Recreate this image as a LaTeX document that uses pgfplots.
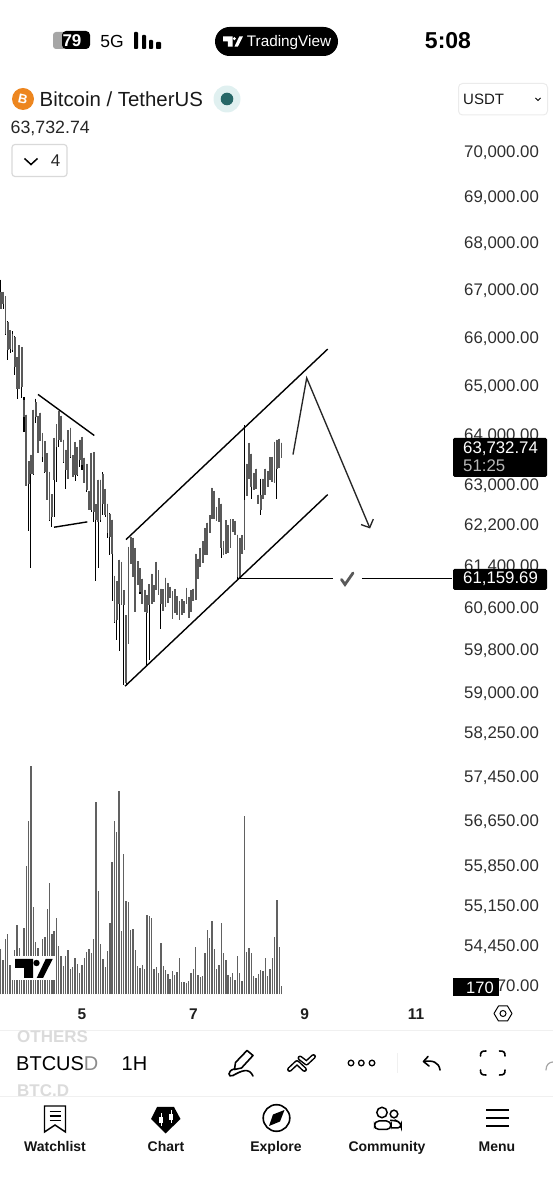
\documentclass[border=0pt]{standalone}
\usepackage{fontspec}
\setmainfont{Liberation Sans}
\usepackage{pgfplots}
\usepackage{pgfplotstable}
\pgfplotsset{compat=1.18}
\newcommand\fs[1]{\fontsize{#1}{#1}\selectfont}
\newcommand\tvlogo[3]{\begin{scope}[shift={(#1,#2)},scale=#3]
 \fill[black] (0,0)--(18,0)--(18,19)--(9,19)--(9,9)--(0,9)--cycle;
 \fill[black] (21.5,4) circle (3.2);
 \fill[black] (30.7,0)--(37.7,0)--(28,19)--(21.7,19)--cycle;
\end{scope}}
\pgfplotstableread{
x h l bt bb
-35 67218 66605 66957 66605
-34 66957 66605 66957 66710
-33 66865 66045 66865 66080
-32 66345 65525 66324 65733
-31 66150 65684 66150 65768
-30 66129 65698 66080 65733
-29 66031 65215 66010 65387
-28 65580 64736 65580 64941
-27 65837 64941 65837 64941
-26 65802 64750 65802 64975
-25 64770 64060 64702 64363
-24 64410 62968 64410 62968
-23 63474 62079 63474 63020
-22 63601 61363 63601 63220
-21 64512 63187 64512 63220
-20 64736 64241 64668 64363
-19 64383 63622 64383 63622
-18 64451 63870 64451 63870
-17 64043 63454 64030 63554
-16 63877 63234 63877 63254
-15 63622 62690 63622 62690
-14 63254 62275 63254 62295
-13 62809 62164 62809 62361
-12 63937 62361 63937 63087
-11 64214 63054 64214 63756
-10 64485 63756 64485 63890
-9 64383 63856 64383 63856
-8 63903 63434 63903 63454
-7 63702 62922 63702 63287
-6 64093 63120 64093 63120
-5 64147 63521 64147 63554
-4 63588 63140 63588 63154
-3 63856 63074 63856 63187
-2 63756 63167 63756 63187
-1 63903 63354 63903 63487
0 63957 63287 63957 63387
1 63541 63034 63541 63034
2 63420 62856 63420 62889
3 62876 62493 62876 62493
4 63635 62460 63635 62493
5 63655 62262 63655 62460
6 62611 61105 62611 62295
7 63100 61350 63100 62262
8 63100 62262 63100 62295
9 63240 62394 63220 62624
10 62915 62361 62915 62394
11 62624 61935 62624 62033
12 62440 61609 62427 61967
13 62308 60720 62308 61642
14 61208 60305 61208 60324
15 61105 59976 61105 60356
16 61524 59768 61524 60675
17 61479 60643 61479 60643
18 60931 59130 60931 60643
19 60452 59130 60452 59161
20 61772 59913 61772 59913
21 61967 61447 61967 61447
22 61948 61189 61948 61189
23 61752 60503 61752 60503
24 61492 61028 61492 61028
25 61350 60867 61350 60900
26 61156 60675 61156 60675
27 60944 60503 60944 60503
28 60835 59492 60835 60484
29 61047 59598 61047 60643
30 61253 60662 61253 60662
31 61028 60707 61028 60707
32 61479 60931 61479 60931
33 61318 60848 61318 60848
34 60963 60179 60963 60675
35 60950 60535 60950 60535
36 61176 60611 61176 60611
37 61073 60688 61073 60688
38 60995 60771 60995 60771
39 60912 60375 60912 60375
40 60950 60484 60950 60484
41 60822 60452 60822 60452
42 60726 60369 60726 60369
43 60758 60465 60758 60465
44 60720 60497 60720 60497
45 60976 60675 60976 60675
46 60803 60407 60803 60407
47 60931 60516 60931 60516
48 60963 60726 60963 60726
49 61641 60739 61641 60739
50 61543 61157 61543 61157
51 61752 61382 61752 61382
52 61883 61460 61883 61460
53 62145 61608 62145 61608
54 62249 61608 62249 61608
55 62394 62046 62394 62046
56 62938 62328 62938 62328
57 62878 62328 62878 62328
58 62558 62282 62558 62282
59 62736 62262 62736 62262
60 62624 61557 62624 61759
61 61889 61621 61889 61621
62 62295 61641 62295 61641
63 62197 61654 62197 61654
64 62315 61759 62315 61759
65 62315 62066 62315 62066
66 62282 62000 62282 62000
67 62013 61157 62013 61190
68 61954 61157 61954 61157
69 62000 61628 62000 61628
70 64190 61706 62690 61706
71 63420 62776 63420 62776
72 63836 63120 63836 63120
73 63621 62703 63621 62960
74 63233 62902 63233 62902
75 63320 62922 63320 62922
76 62803 62624 62803 62624
77 63120 62394 62800 62500
78 63120 62703 63120 62703
79 63320 62790 63320 62790
80 63267 62955 63267 62955
81 63554 63100 63554 63100
82 63554 63054 63554 63054
83 63856 63034 63856 63034
84 63903 62703 63903 63320
85 63923 63340 63923 63340
86 63843 63534 63843 63533
}\candles
\pgfplotstableread{
x v
-35 945
-34 721
-33 1162
-32 1260
-31 616
-30 462
-29 931
-28 1456
-27 966
-26 721
-25 1400
-24 2695
-23 3640
-22 4795
-21 1841
-20 1092
-19 980
-18 721
-17 1162
-16 1211
-15 1792
-14 2331
-13 1267
-12 1330
-11 1596
-10 1015
-9 805
-8 602
-7 805
-6 924
-5 532
-4 581
-3 756
-2 637
-1 441
0 616
1 756
2 896
3 945
4 875
5 1155
6 4032
7 2163
8 1057
9 742
10 581
11 917
12 1491
13 2786
14 3640
15 3416
16 4277
17 1337
18 2947
19 1960
20 1932
21 1351
22 1379
23 931
24 602
25 546
26 609
27 539
28 1666
29 1638
30 1610
31 525
32 567
33 441
34 1085
35 588
36 518
37 427
38 322
39 497
40 406
41 462
42 756
43 266
44 252
45 245
46 287
47 441
48 532
49 994
50 406
51 371
52 378
53 875
54 1344
55 1176
56 1533
57 959
58 525
59 616
60 1505
61 875
62 714
63 406
64 371
65 441
66 294
67 805
68 441
69 287
70 3745
71 896
72 966
73 861
74 392
75 336
76 427
77 518
78 490
79 756
80 385
81 539
82 756
83 1204
84 1981
85 1001
86 170
}\volumes
\begin{document}
\begin{tikzpicture}[x=1pt,y=1pt]
\path[use as bounding box] (0,0) rectangle (553,1200);
% volume pane
\begin{axis}[at={(0pt,205.5pt)},anchor=south west,scale only axis,width=452pt,height=234.5pt,
 xmin=-35.345,xmax=159.48,ymin=0,ymax=4921,hide axis]
\addplot[ycomb,color=black!62,line width=1.35pt,mark=none] table[x=x,y=v] \volumes;
\end{axis}
% logo on chart
\begin{scope}[x=1pt,y=-1pt,yshift=1200pt]
 \fill[white] (12,956) rectangle (56,980.5);
 \tvlogo{15}{959}{1}
\end{scope}
% price pane: logarithmic price scale (axis units are 1000*ln(price))
\begin{axis}[at={(0pt,205pt)},anchor=south west,scale only axis,width=452pt,height=865pt,
 xmin=-35.345,xmax=159.48,
 y filter/.code={\pgfmathparse{ln(#1)*1000}},
 ymin=10889.50,ymax=11162.89,
 axis line style={draw=none},major tick length=0pt,
 scaled y ticks=false,scaled x ticks=false,
 ytick={10892.47,10905.04,10917.81,10930.43,10944.65,10958.67,10972.50,10985.29,10998.76,11012.05,11025.17,11038.11,11050.89,11066.64,11082.14,11097.41,11112.45,11127.26,11141.86,11156.25},
 yticklabels={53{,}770.00,54{,}450.00,55{,}150.00,55{,}850.00,56{,}650.00,57{,}450.00,58{,}250.00,59{,}000.00,59{,}800.00,60{,}600.00,61{,}400.00,62{,}200.00,63{,}000.00,64{,}000.00,65{,}000.00,66{,}000.00,67{,}000.00,68{,}000.00,69{,}000.00,70{,}000.00},
 yticklabel pos=right,
 yticklabel style={anchor=west,inner sep=0pt,xshift=12pt,yshift=-1.3pt,font=\fs{16.8},text=black!82},
 xtick={0,48,96,144},xticklabels={5,7,9,11},
 xticklabel style={anchor=center,yshift=-19pt,font=\fs{15.5}\bfseries,text=black!88},
 ]
\pgfplotstablegetrowsof{\candles}
\pgfmathtruncatemacro\lastrow{\pgfplotsretval-1}
\pgfplotsforeachungrouped \i in {0,...,\lastrow}{%
 \pgfplotstablegetelem{\i}{x}\of\candles\let\cx\pgfplotsretval
 \pgfplotstablegetelem{\i}{h}\of\candles\let\ch\pgfplotsretval
 \pgfplotstablegetelem{\i}{l}\of\candles\let\cl\pgfplotsretval
 \pgfplotstablegetelem{\i}{bt}\of\candles\let\cbt\pgfplotsretval
 \pgfplotstablegetelem{\i}{bb}\of\candles\let\cbb\pgfplotsretval
 \edef\temp{\noexpand\addplot[black,line width=1.05pt,forget plot] coordinates {(\cx,\ch) (\cx,\cl)};
  \noexpand\addplot[color=black!65,line width=1.8pt,forget plot] coordinates {(\cx,\cbt) (\cx,\cbb)};}%
 \temp
}
% drawings
\addplot[black,line width=1.4pt,forget plot] coordinates {(-18.97,64820) (5.30,63985)};
\addplot[black,line width=1.4pt,forget plot] coordinates {(-12.07,62157) (2.28,62262)};
\addplot[black,line width=1.4pt,forget plot] coordinates {(18.97,61916) (105.9,65760)};
\addplot[black,line width=1.4pt,forget plot] coordinates {(18.53,59111) (105.9,62802)};
\addplot[black!85,line width=1.35pt,forget plot] coordinates {(90.95,63602) (96.85,65160) (124.0,62146)};
\addplot[black!85,line width=1.35pt,forget plot] coordinates {(120.26,62211) (124.0,62146) (125.56,62315)};
\addplot[black,line width=1.3pt,forget plot] coordinates {(68.1,61159.69) (108.3,61159.69)};
\addplot[black,line width=1.3pt,forget plot] coordinates {(120.6,61159.69) (159.48,61159.69)};
\end{axis}
\begin{scope}[x=1pt,y=-1pt,yshift=1200pt]
% check mark
\draw[black!65,line width=2.8pt,line cap=round] (341.5,579.5)--(345,584.5)--(353,573);
% price labels
\fill[black,rounded corners=1.5pt] (453,438) rectangle (547,477);
\node[anchor=west,inner sep=0,white,font=\fs{16.8}] at (463,449) {63,732.74};
\node[anchor=west,inner sep=0,black!28,font=\fs{16.8}] at (463,466) {51:25};
\fill[black,rounded corners=1.5pt] (453,569) rectangle (547,590);
\node[anchor=west,inner sep=0,white,font=\fs{16.8}] at (463,579) {61,159.69};
\fill[black] (453,978) rectangle (499,996);
\node[anchor=center,inner sep=0,white,font=\fs{16.5}] at (480,988) {170};
% status bar
\fill[black!35,rounded corners=3pt] (53,32) rectangle (66,49);
\fill[black,rounded corners=4pt] (62,31) rectangle (90,49);
\node[inner sep=0,white,font=\fs{17}\bfseries] at (72,40.5) {79};
\node[inner sep=0,font=\fs{17.5}] at (112,41) {5G};
\fill[black,rounded corners=.8pt] (134,32) rectangle (138,49);
\fill[black,rounded corners=.8pt] (142,35) rectangle (146,49);
\fill[black,rounded corners=.8pt] (149,40) rectangle (153,49);
\fill[black,rounded corners=.8pt] (156,42) rectangle (161,49);
\fill[black,rounded corners=14.5pt] (215,27) rectangle (338,56);
\begin{scope}[shift={(223,36.5)},scale=.53]
 \fill[white] (0,0)--(18,0)--(18,19)--(9,19)--(9,9)--(0,9)--cycle;
 \fill[white] (21.5,4) circle (3.2);
 \fill[white] (30.7,0)--(37.7,0)--(28,19)--(21.7,19)--cycle;
\end{scope}
\node[anchor=base,inner sep=0,white,font=\fs{15.3}] at (289,47) {TradingView};
\node[inner sep=0,font=\fs{23}\bfseries] at (448,41) {5:08};
% title row
\fill[orange!70!brown!95!white] (23,99) circle (11);
\node[inner sep=0,white,rotate=-12,font=\fs{13}\bfseries] at (23,99) {B};
\node[anchor=west,inner sep=0,black!90,font=\fs{20.4}] at (39.5,99) {Bitcoin / TetherUS};
\fill[teal!12] (227,99) circle (13.5);
\fill[teal!60!black!85!white] (227,99) circle (6.3);
\draw[black!8,line width=1pt,rounded corners=4pt] (458.5,83.5) rectangle (547.5,115);
\node[anchor=west,inner sep=0,black!90,font=\fs{15}] at (463,99) {USDT};
\draw[black,line width=1pt] (535.5,98) -- (538,100.5) -- (540.5,98);
\node[anchor=west,inner sep=0,black!85,font=\fs{17.8}] at (10.5,128) {63,732.74};
\draw[black!15,line width=1.2pt,rounded corners=3pt] (12,144.5) rectangle (67,176.5);
\draw[black,line width=1.5pt] (24.5,158.5) -- (31,164.5) -- (37.5,158.5);
\node[inner sep=0,black!85,font=\fs{17}] at (55.7,161) {4};
% x axis strip
\draw[black,line width=1pt,line join=round] (494,1013.5)--(498.5,1006)--(507.5,1006)--(512,1013.5)--(507.5,1021)--(498.5,1021)--cycle;
\draw[black,line width=1pt] (503,1013.5) circle (3);
\draw[black!6,line width=.8pt] (0,1030)--(553,1030);
\draw[black!6,line width=.8pt] (0,1096)--(553,1096);
% symbols
\begin{scope}
\clip (0,1030.5) rectangle (553,1095.5);
\node[anchor=west,inner sep=0,black!14,font=\fs{17}\bfseries] at (17,1036.5) {OTHERS};
\node[anchor=west,inner sep=0,black!14,font=\fs{17}\bfseries] at (17,1091) {BTC.D};
\end{scope}
\node[anchor=west,inner sep=0,black,font=\fs{20}] at (16,1063.5) {BTCUS\textcolor{black!45}{D}};
\node[anchor=west,inner sep=0,black,font=\fs{20}] at (121.5,1063.5) {1H};
% pen
\draw[black,line width=1.6pt,line join=round] (247,1050.5)--(253,1055.5)--(241.5,1068)--(234.5,1069.5)--(235.5,1062.5)--cycle;
\draw[black,line width=1.6pt,line cap=round] (234,1069) .. controls (227,1071) and (228,1078) .. (233,1075.5) .. controls (241,1071) and (249,1067) .. (253,1076);
% trend icon
\draw[black,line width=5pt,line join=round,line cap=round] (289.5,1069.5)--(297,1062.5)--(304.5,1069.5);
\draw[black,line width=5pt,line join=round,line cap=round] (300,1058)--(306.5,1063)--(313.5,1056.5);
\draw[white,line width=2pt,line join=round,line cap=round] (289.5,1069.5)--(297,1062.5)--(304.5,1069.5);
\draw[white,line width=2pt,line join=round,line cap=round] (300,1058)--(306.5,1063)--(313.5,1056.5);
% dots
\foreach \d in {351,361.3,372}{\draw[black,line width=1.3pt] (\d,1063) circle (2.8);}
\draw[black!6,line width=.8pt] (397,1053)--(397,1073);
% undo
\draw[black,line width=1.6pt,line cap=round,line join=round] (428,1056.5)--(423.5,1061.5)--(429,1066);
\draw[black,line width=1.6pt,line cap=round] (424,1061.5) .. controls (432,1060) and (439,1062) .. (440,1070);
% fullscreen corners
\draw[black,line width=1.6pt,line cap=round] (480.5,1056) .. controls (480.5,1052) and (481.5,1051) .. (486,1051);
\draw[black,line width=1.6pt,line cap=round] (499.5,1051) .. controls (504,1051) and (505,1052) .. (505,1056);
\draw[black,line width=1.6pt,line cap=round] (480.5,1070) .. controls (480.5,1074) and (481.5,1075) .. (486,1075);
\draw[black,line width=1.6pt,line cap=round] (499.5,1075) .. controls (504,1075) and (505,1074) .. (505,1070);
\draw[black!35,line width=1.2pt,line cap=round] (553,1062) .. controls (549,1062) and (546,1065) .. (546,1070);
% nav
\draw[black,line width=1.4pt,line join=miter] (44.5,1106)--(65.5,1106)--(65.5,1132)--(55,1125)--(44.5,1132)--cycle;
\foreach \y in {1111.5,1116,1120.5}{\draw[black,line width=1.3pt] (49.5,\y)--(60.5,\y);}
\fill[black] (157,1107)--(174,1107)--(180.5,1119)--(165.5,1133.5)--(151,1119)--cycle;
\foreach \c/\s in {161/1.5,171/-1.5}{
 \draw[white,line width=1pt] (\c,1112+\s)--(\c,1125+\s);
 \fill[white] (\c-2,1115.5+\s) rectangle (\c+2,1121.5+\s);}
\draw[black,line width=1.6pt] (276.5,1118) circle (13.3);
\fill[black] (284.5,1110)--(280,1121.5)--(269,1126)--(273,1114.5)--cycle;
\draw[black,line width=1.5pt] (382,1112.5) circle (5.2);
\draw[black,line width=1.5pt] (394,1114) circle (3.8);
\draw[black,line width=1.5pt,rounded corners=4.5pt] (374.5,1129.5) rectangle (391,1121);
\draw[black,line width=1.5pt,rounded corners=3.5pt] (392,1128)--(401,1128)--(401,1123)--(396,1120.5)--(390,1120.5);
\foreach \y in {1110,1118,1126}{\draw[black,line width=1.6pt] (486,\y)--(509,\y);}
\foreach \x/\t in {55/Watchlist,166/Chart,276/Explore,387/Community,497/Menu}{
 \node[anchor=base,inner sep=0,black!92,font=\fs{14}\bfseries] at (\x,1152) {\t};}
\end{scope}
\end{tikzpicture}
\end{document}
